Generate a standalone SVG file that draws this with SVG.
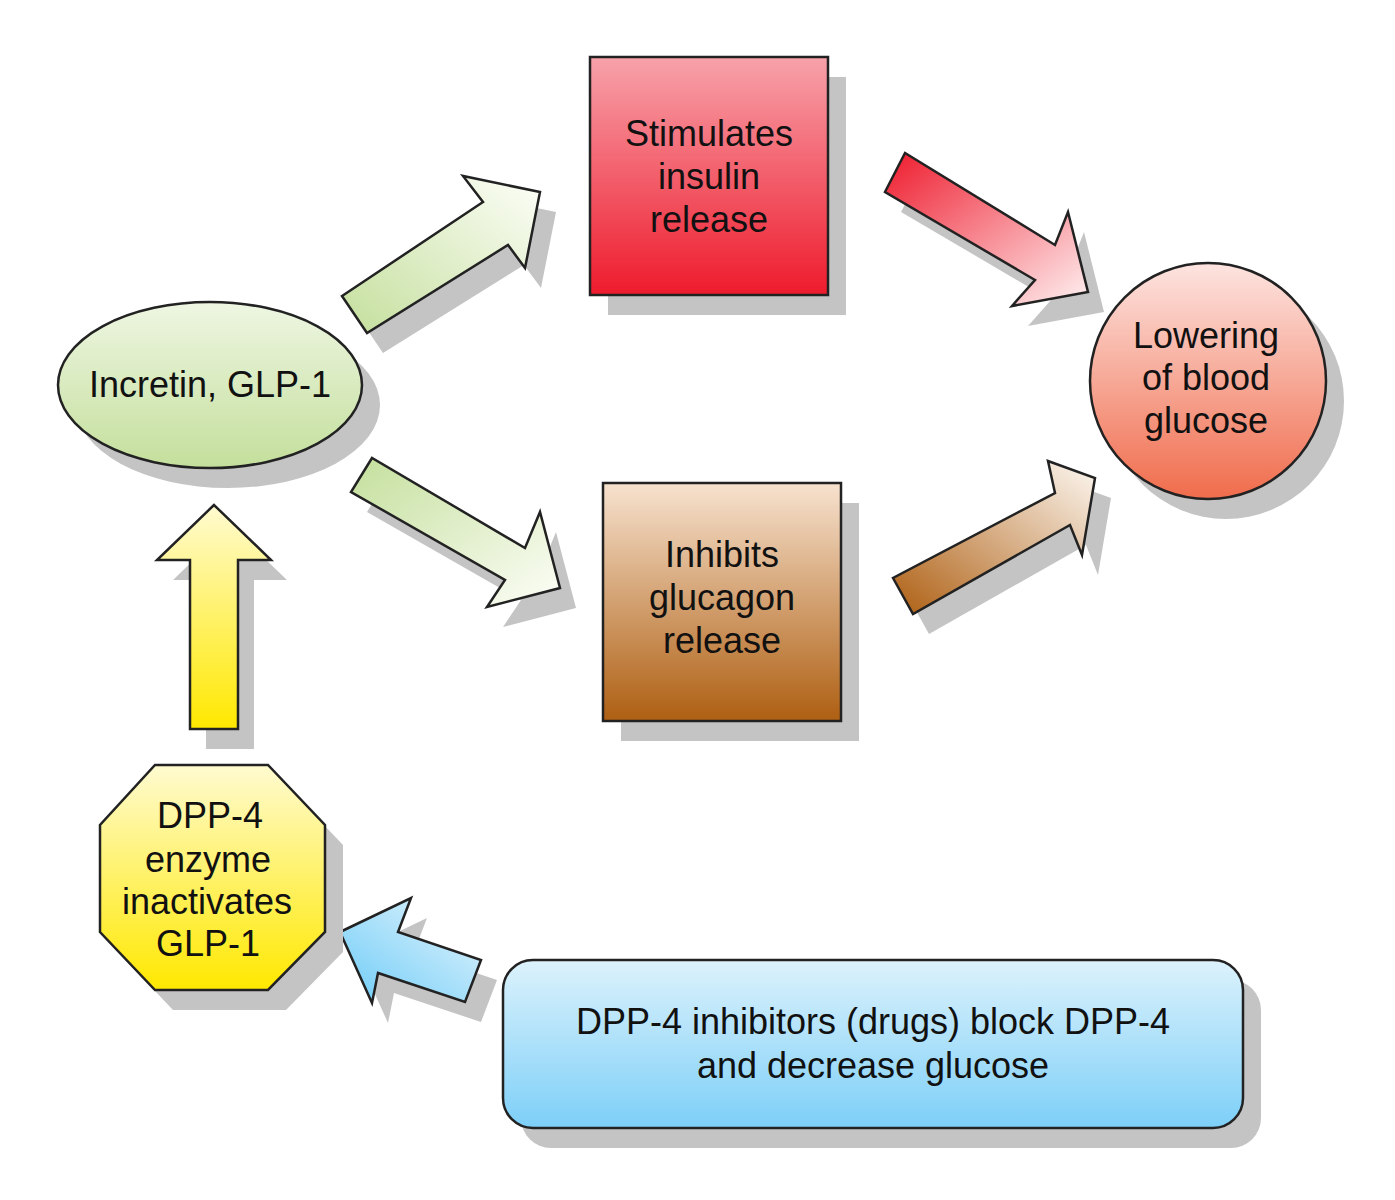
<svg xmlns="http://www.w3.org/2000/svg" width="1395" height="1200" viewBox="0 0 1395 1200">
<defs>
<linearGradient id="gRed" x1="0" y1="0" x2="0" y2="1"><stop offset="0" stop-color="#f7a2aa"/><stop offset="1" stop-color="#ee1b2d"/></linearGradient>
<linearGradient id="gBrown" x1="0" y1="0" x2="0" y2="1"><stop offset="0" stop-color="#f7e2cf"/><stop offset="1" stop-color="#ae5f12"/></linearGradient>
<linearGradient id="gGreen" x1="0" y1="0" x2="0" y2="1"><stop offset="0" stop-color="#eef6e2"/><stop offset="1" stop-color="#c4df9c"/></linearGradient>
<linearGradient id="gCirc" x1="0" y1="0" x2="0" y2="1"><stop offset="0" stop-color="#fde4e0"/><stop offset="1" stop-color="#f06c4c"/></linearGradient>
<linearGradient id="gYel" x1="0" y1="0" x2="0" y2="1"><stop offset="0" stop-color="#fffbd0"/><stop offset="1" stop-color="#ffe800"/></linearGradient>
<linearGradient id="gBlue" x1="0" y1="0" x2="0" y2="1"><stop offset="0" stop-color="#dcf2fc"/><stop offset="1" stop-color="#7dcff8"/></linearGradient>
<linearGradient id="aG1" x1="0" y1="1" x2="1" y2="0"><stop offset="0" stop-color="#c4df9c"/><stop offset="1" stop-color="#fdfef8"/></linearGradient>
<linearGradient id="aG2" x1="0" y1="0" x2="1" y2="1"><stop offset="0" stop-color="#c4df9c"/><stop offset="1" stop-color="#fdfef8"/></linearGradient>
<linearGradient id="aR" x1="0" y1="0" x2="1" y2="1"><stop offset="0" stop-color="#ee1b2d"/><stop offset="1" stop-color="#fff2f2"/></linearGradient>
<linearGradient id="aB" x1="0" y1="1" x2="1" y2="0"><stop offset="0" stop-color="#ae5f12"/><stop offset="1" stop-color="#fdf8f2"/></linearGradient>
<linearGradient id="aY" x1="0" y1="0" x2="0" y2="1"><stop offset="0" stop-color="#fffbd0"/><stop offset="1" stop-color="#ffe800"/></linearGradient>
<linearGradient id="aBl" x1="0" y1="1" x2="1" y2="0"><stop offset="0" stop-color="#6ccbf7"/><stop offset="1" stop-color="#e8f6fd"/></linearGradient>
</defs>
<style>
.sh{fill:#c4c4c4}
.st{stroke:#222;stroke-width:2.5;stroke-linejoin:miter}
text{font-family:"Liberation Sans",Arial,sans-serif;font-size:36px;fill:#111;text-anchor:middle}
</style>
<rect width="1395" height="1200" fill="#fff"/>
<g id="connectors">
<g transform="translate(16,20)" class="sh">
<polygon points="342,296 367,333 508,245 525,268 540,192 463,176 483,202"/>
<polygon points="372,458 351,492 505,580 487,607 560,588 540,512 525,548"/>
<polygon points="905,153 885,192 1035,280 1012,306 1088,292 1068,212 1055,245"/>
<polygon points="893,578 913,614 1070,525 1082,555 1095,478 1048,461 1055,493"/>
<polygon points="214,505 157,560 190,560 190,729 238,729 238,560 271,560"/>
<polygon points="340,932 411,898 398,932 481,960 465,1002 378,973 372,1003"/>
</g>
<polygon class="st" fill="url(#aG1)" points="342,296 367,333 508,245 525,268 540,192 463,176 483,202"/>
<polygon class="st" fill="url(#aG2)" points="372,458 351,492 505,580 487,607 560,588 540,512 525,548"/>
<polygon class="st" fill="url(#aR)" points="905,153 885,192 1035,280 1012,306 1088,292 1068,212 1055,245"/>
<polygon class="st" fill="url(#aB)" points="893,578 913,614 1070,525 1082,555 1095,478 1048,461 1055,493"/>
<polygon class="st" fill="url(#aY)" points="214,505 157,560 190,560 190,729 238,729 238,560 271,560"/>
<polygon class="st" fill="url(#aBl)" points="340,932 411,898 398,932 481,960 465,1002 378,973 372,1003"/>
</g>
<g id="insulin">
<rect class="sh" x="608" y="77" width="238" height="238"/>
<rect class="st" fill="url(#gRed)" x="590" y="57" width="238" height="238"/>
<text x="709" y="146">Stimulates</text><text x="709" y="189">insulin</text><text x="709" y="232">release</text>
</g>
<g id="glucagon">
<rect class="sh" x="621" y="503" width="238" height="238"/>
<rect class="st" fill="url(#gBrown)" x="603" y="483" width="238" height="238"/>
<text x="722" y="567">Inhibits</text><text x="722" y="610">glucagon</text><text x="722" y="653">release</text>
</g>
<g id="incretin">
<ellipse class="sh" cx="228" cy="405" rx="152" ry="83"/>
<ellipse class="st" fill="url(#gGreen)" cx="210" cy="385" rx="152" ry="83"/>
<text x="210" y="397">Incretin, GLP-1</text>
</g>
<g id="lowering">
<circle class="sh" cx="1226" cy="401" r="118"/>
<circle class="st" fill="url(#gCirc)" cx="1208" cy="381" r="118"/>
<text x="1206" y="348">Lowering</text><text x="1206" y="390">of blood</text><text x="1206" y="433">glucose</text>
</g>
<g id="dpp4">
<polygon class="sh" transform="translate(18,20)" points="155,765 268,765 325,825 325,932 268,990 155,990 100,932 100,825"/>
<polygon class="st" fill="url(#gYel)" points="155,765 268,765 325,825 325,932 268,990 155,990 100,932 100,825"/>
<text x="210" y="828">DPP-4</text><text x="208" y="872">enzyme</text><text x="207" y="914">inactivates</text><text x="208" y="956">GLP-1</text>
</g>
<g id="inhibitors">
<rect class="sh" x="521" y="980" width="740" height="168" rx="30"/>
<rect class="st" fill="url(#gBlue)" x="503" y="960" width="740" height="168" rx="30"/>
<text x="873" y="1034">DPP-4 inhibitors (drugs) block DPP-4</text><text x="873" y="1078">and decrease glucose</text>
</g>
</svg>
